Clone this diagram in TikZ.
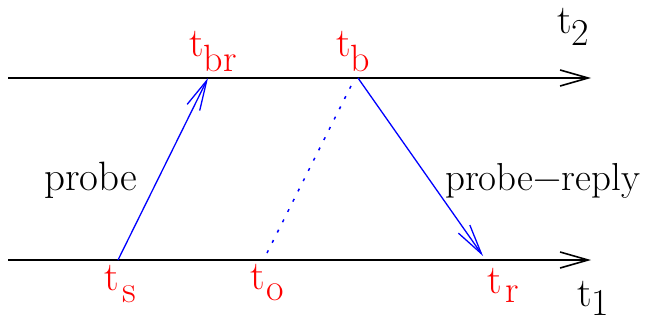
\documentclass[tikz,border=0pt]{standalone}
\usepackage{fontspec}
\usetikzlibrary{arrows.meta}
\tikzset{
  axis/.style={line width=1.6pt,-{Straight Barb[length=28pt,width=16pt,line width=1.6pt]}},
  msg/.style={draw=blue,line width=1.3pt,-{Straight Barb[length=30pt,width=14pt,line width=1.3pt]}},
  hidden/.style={draw=blue,line width=1.5pt,dash pattern=on 3pt off 8.5pt},
  lbl/.style={inner sep=0pt,anchor=base west,font=\rmfamily\fontsize{41}{42}\selectfont},
  tlbl/.style={lbl,text=red},
}
\newcommand{\tsub}[3]{t\kern#1\raisebox{-#2}{\fontsize{38}{39}\selectfont #3}}
\begin{document}
\begin{tikzpicture}[x=1pt,y=-1pt]
\useasboundingbox (0,0) rectangle (661,321);
% axes
\coordinate (a2s) at (8,78);
\coordinate (a2e) at (591,78);
\coordinate (a1s) at (8,260);
\coordinate (a1e) at (591,260);
\draw[axis] (a2s) -- (a2e);
\draw[axis] (a1s) -- (a1e);
% event points
\coordinate (ts) at (118,260);
\coordinate (tbr) at (208,78);
\coordinate (to) at (267,253);
\coordinate (tbd) at (353,82);
\coordinate (tb) at (358,78);
\coordinate (tr) at (483,256);
\draw[msg] (ts) -- (tbr);
\draw[hidden] (to) -- (tbd);
\draw[msg] (tb) -- (tr);
% labels
\node[tlbl] (Ltbr) at (189,57) {\tsub{0pt}{14pt}{br}};
\node[tlbl] (Ltb) at (336,57) {\tsub{0pt}{14pt}{b}};
\node[lbl] (Lt2) at (557,34) {\tsub{0pt}{12pt}{2}};
\node[tlbl] (Lts) at (104,290) {\tsub{4pt}{12pt}{s}};
\node[tlbl] (Lto) at (250,289) {\tsub{2pt}{11pt}{o}};
\node[tlbl] (Ltr) at (487,293) {\tsub{4pt}{9pt}{r}};
\node[lbl] (Lt1) at (577,306) {\tsub{0pt}{9pt}{1}};
\node[lbl] (Lprobe) at (44,190) {probe};
\node[lbl,font=\rmfamily\fontsize{39}{40}\selectfont] (Lreply) at (445,190) {probe−reply};
\end{tikzpicture}
\end{document}
